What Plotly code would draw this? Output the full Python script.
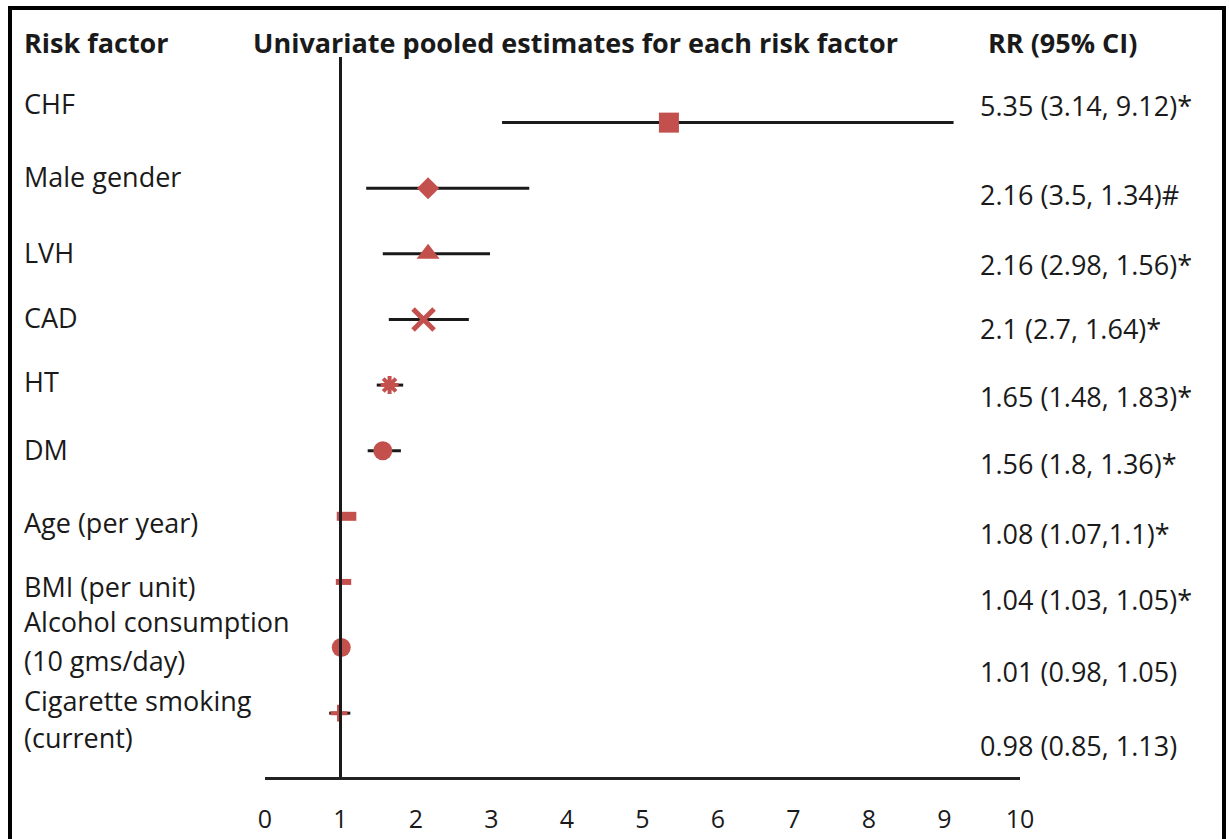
import plotly.graph_objects as go

# Risk factors and their pooled relative risks with 95% confidence limits
factors = [
    "CHF",
    "Male gender",
    "LVH",
    "CAD",
    "HT",
    "DM",
    "Age (per year)",
    "BMI (per unit)",
    "Alcohol consumption<br>(10 gms/day)",
    "Cigarette smoking<br>(current)",
]
rr = [5.35, 2.16, 2.16, 2.1, 1.65, 1.56, 1.08, 1.04, 1.01, 0.98]
ci_first = [3.14, 3.5, 2.98, 2.7, 1.48, 1.8, 1.07, 1.03, 0.98, 0.85]
ci_second = [9.12, 1.34, 1.56, 1.64, 1.83, 1.36, 1.1, 1.05, 1.05, 1.13]
ci_sep = [", ", ", ", ", ", ", ", ", ", ", ", ",", ", ", ", ", ", "]
significance = ["*", "#", "*", "*", "*", "*", "*", "*", "", ""]
x_ticks = [0, 1, 2, 3, 4, 5, 6, 7, 8, 9, 10]

# ---- styling ----
W, H = 1229, 839
M_L, M_R, M_T, M_B = 265, 209, 57, 62
PLOT_H = H - M_T - M_B
PLOT_W = W - M_L - M_R
RED = "#C4504D"
INK = "#1a1a1a"
FONT = "Open Sans"
TXT = 27

symbols = ["square", "diamond", "triangle-up", "x-thin", "asterisk",
           "circle", "line-ew", "line-ew", "circle", "cross-thin"]
sizes = [20, 17, 20, 21, 15, 19, 14, 11, 19, 12]
line_w = [0, 0, 0, 5, 4, 0, 9, 6, 0, 4]
# text line centres (px from top) for the two text columns
name_line_px = [[103], [177], [252], [317], [382], [449], [522], [586],
                [621, 660], [700, 737]]
rr_label_px = [106, 194, 264, 328, 396, 463, 533, 599, 671, 745]

rows = list(range(len(factors)))
lo = [min(a, b) for a, b in zip(ci_first, ci_second)]
hi = [max(a, b) for a, b in zip(ci_first, ci_second)]


def px_x(px):
    return (px - M_L) / PLOT_W


def px_y(py):
    return (H - M_B - py) / PLOT_H


fig = go.Figure()

fig.add_trace(go.Scatter(
    x=rr,
    y=rows,
    mode="markers",
    marker=dict(
        symbol=symbols,
        size=sizes,
        color=RED,
        opacity=1,
        line=dict(color=RED, width=line_w),
    ),
    error_x=dict(
        type="data",
        symmetric=False,
        array=[h - v for h, v in zip(hi, rr)],
        arrayminus=[v - l for v, l in zip(rr, lo)],
        color=INK,
        thickness=3,
        width=0,
    ),
    hoverinfo="skip",
    showlegend=False,
))

annotations = []

# column headers
hdr_y = px_y(42)
for txt, xpx, anchor in [
    ("Risk factor", 22, "left"),
    ("Univariate pooled estimates for each risk factor", 575, "center"),
    ("RR (95% CI)", 1062, "center"),
]:
    annotations.append(dict(
        text=f"<b>{txt}</b>", x=px_x(xpx), y=hdr_y, xref="paper", yref="paper",
        xanchor=anchor, yanchor="middle", showarrow=False,
        font=dict(family=FONT, size=TXT, color=INK),
    ))

# factor names on the left (one annotation per text line)
for i, name in enumerate(factors):
    for part, ypx in zip(name.split("<br>"), name_line_px[i]):
        annotations.append(dict(
            text=part, x=px_x(22), y=px_y(ypx), xref="paper", yref="paper",
            xanchor="left", yanchor="middle", align="left", showarrow=False,
            font=dict(family=FONT, size=TXT, color=INK),
        ))

# RR (95% CI) column
for i in rows:
    label = f"{rr[i]} ({ci_first[i]}{ci_sep[i]}{ci_second[i]}){significance[i]}"
    annotations.append(dict(
        text=label, x=px_x(978), y=px_y(rr_label_px[i]), xref="paper", yref="paper",
        xanchor="left", yanchor="middle", showarrow=False,
        font=dict(family=FONT, size=TXT, color=INK),
    ))

shapes = [
    # line of no effect
    dict(type="line", xref="x", yref="paper", x0=1, x1=1, y0=0, y1=1,
         line=dict(color=INK, width=3)),
    # outer frame
    dict(type="rect", xref="paper", yref="paper",
         x0=px_x(10), x1=px_x(1224), y0=px_y(8), y1=px_y(860),
         line=dict(color="black", width=4), layer="above"),
]

fig.update_layout(
    width=W,
    height=H,
    margin=dict(l=M_L, r=M_R, t=M_T, b=M_B, autoexpand=False),
    paper_bgcolor="white",
    plot_bgcolor="white",
    annotations=annotations,
    shapes=shapes,
    xaxis=dict(
        range=[0, 10],
        tickvals=x_ticks,
        ticktext=[str(t) for t in x_ticks],
        showgrid=False,
        zeroline=False,
        showline=True,
        linecolor="#222222",
        linewidth=3,
        ticks="",
        automargin=False,
        ticklabelstandoff=18,
        tickfont=dict(family=FONT, size=25, color=INK),
    ),
    yaxis=dict(
        range=[9.973, -1.0],
        visible=False,
        showgrid=False,
        zeroline=False,
    ),
)

fig.write_html("out.html")
